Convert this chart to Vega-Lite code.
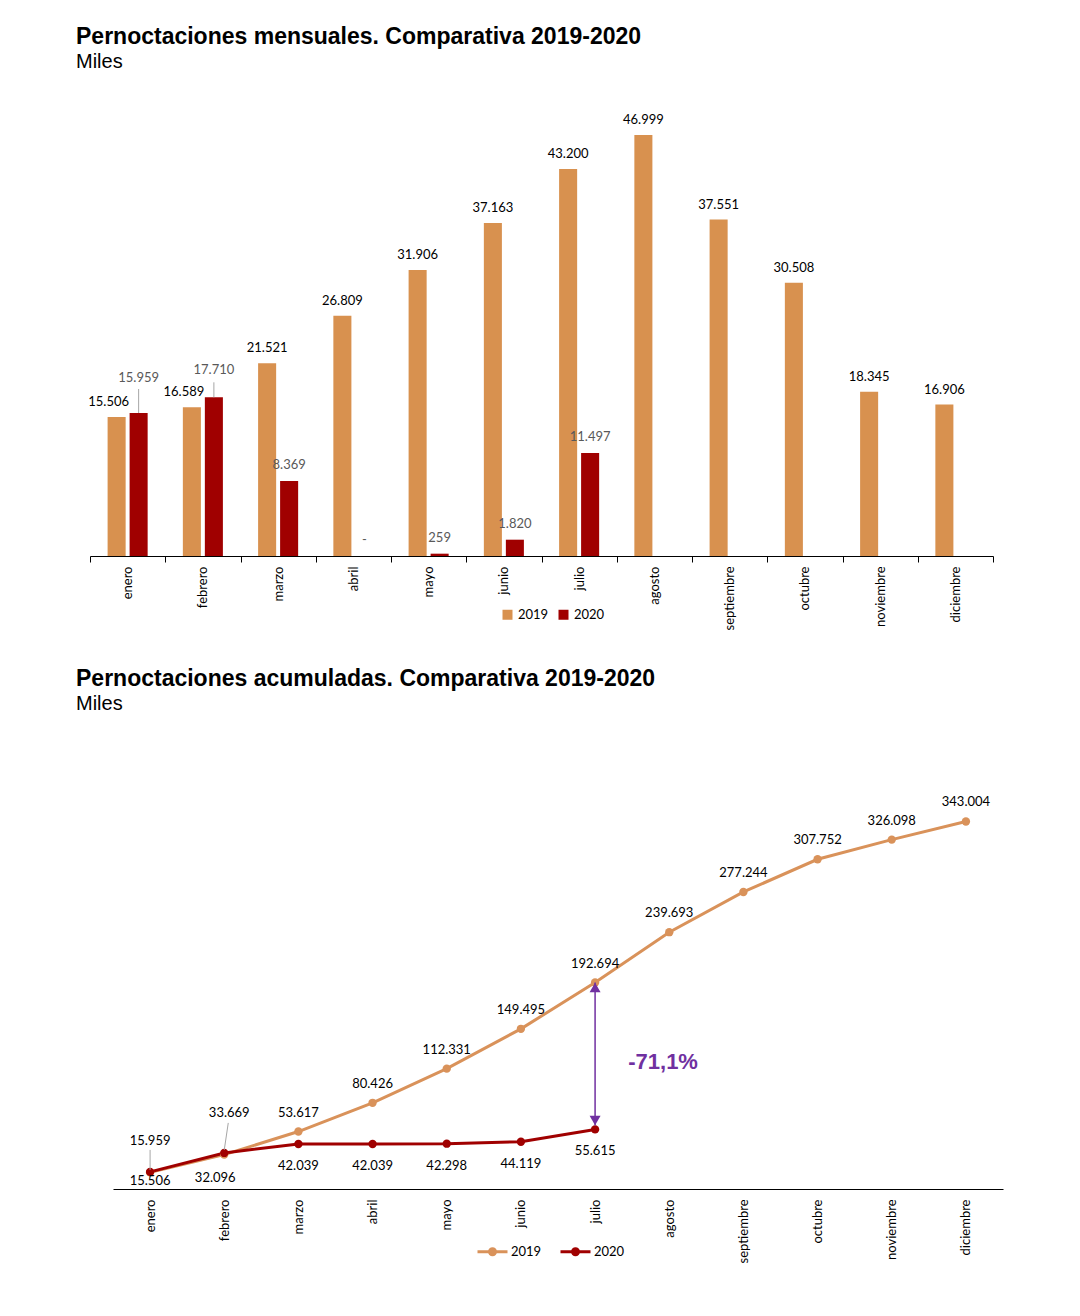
{
  "$schema": "https://vega.github.io/schema/vega-lite/v6.json",
  "background": "white",
  "padding": {"left": 76, "top": 26, "right": 10, "bottom": 10},
  "config": {"view": {"stroke": null}, "font": "Lato"},
  "datasets": {
    "mensual": [
      {"mes": "enero", "n": 1, "anio": "2019", "valor": 15.506, "etiqueta": "15.506"},
      {"mes": "febrero", "n": 2, "anio": "2019", "valor": 16.589, "etiqueta": "16.589"},
      {"mes": "marzo", "n": 3, "anio": "2019", "valor": 21.521, "etiqueta": "21.521"},
      {"mes": "abril", "n": 4, "anio": "2019", "valor": 26.809, "etiqueta": "26.809"},
      {"mes": "mayo", "n": 5, "anio": "2019", "valor": 31.906, "etiqueta": "31.906"},
      {"mes": "junio", "n": 6, "anio": "2019", "valor": 37.163, "etiqueta": "37.163"},
      {"mes": "julio", "n": 7, "anio": "2019", "valor": 43.2, "etiqueta": "43.200"},
      {"mes": "agosto", "n": 8, "anio": "2019", "valor": 46.999, "etiqueta": "46.999"},
      {"mes": "septiembre", "n": 9, "anio": "2019", "valor": 37.551, "etiqueta": "37.551"},
      {"mes": "octubre", "n": 10, "anio": "2019", "valor": 30.508, "etiqueta": "30.508"},
      {"mes": "noviembre", "n": 11, "anio": "2019", "valor": 18.345, "etiqueta": "18.345"},
      {"mes": "diciembre", "n": 12, "anio": "2019", "valor": 16.906, "etiqueta": "16.906"},
      {"mes": "enero", "n": 1, "anio": "2020", "valor": 15.959, "etiqueta": "15.959"},
      {"mes": "febrero", "n": 2, "anio": "2020", "valor": 17.71, "etiqueta": "17.710"},
      {"mes": "marzo", "n": 3, "anio": "2020", "valor": 8.369, "etiqueta": "8.369"},
      {"mes": "abril", "n": 4, "anio": "2020", "valor": 0, "etiqueta": "-"},
      {"mes": "mayo", "n": 5, "anio": "2020", "valor": 0.259, "etiqueta": "259"},
      {"mes": "junio", "n": 6, "anio": "2020", "valor": 1.82, "etiqueta": "1.820"},
      {"mes": "julio", "n": 7, "anio": "2020", "valor": 11.497, "etiqueta": "11.497"}
    ],
    "acumulado": [
      {"mes": "enero", "n": 1, "anio": "2019", "valor": 15.506, "etiqueta": "15.506"},
      {"mes": "febrero", "n": 2, "anio": "2019", "valor": 32.096, "etiqueta": "32.096"},
      {"mes": "marzo", "n": 3, "anio": "2019", "valor": 53.617, "etiqueta": "53.617"},
      {"mes": "abril", "n": 4, "anio": "2019", "valor": 80.426, "etiqueta": "80.426"},
      {"mes": "mayo", "n": 5, "anio": "2019", "valor": 112.331, "etiqueta": "112.331"},
      {"mes": "junio", "n": 6, "anio": "2019", "valor": 149.495, "etiqueta": "149.495"},
      {"mes": "julio", "n": 7, "anio": "2019", "valor": 192.694, "etiqueta": "192.694"},
      {"mes": "agosto", "n": 8, "anio": "2019", "valor": 239.693, "etiqueta": "239.693"},
      {"mes": "septiembre", "n": 9, "anio": "2019", "valor": 277.244, "etiqueta": "277.244"},
      {"mes": "octubre", "n": 10, "anio": "2019", "valor": 307.752, "etiqueta": "307.752"},
      {"mes": "noviembre", "n": 11, "anio": "2019", "valor": 326.098, "etiqueta": "326.098"},
      {"mes": "diciembre", "n": 12, "anio": "2019", "valor": 343.004, "etiqueta": "343.004"},
      {"mes": "enero", "n": 1, "anio": "2020", "valor": 15.959, "etiqueta": "15.959"},
      {"mes": "febrero", "n": 2, "anio": "2020", "valor": 33.669, "etiqueta": "33.669"},
      {"mes": "marzo", "n": 3, "anio": "2020", "valor": 42.039, "etiqueta": "42.039"},
      {"mes": "abril", "n": 4, "anio": "2020", "valor": 42.039, "etiqueta": "42.039"},
      {"mes": "mayo", "n": 5, "anio": "2020", "valor": 42.298, "etiqueta": "42.298"},
      {"mes": "junio", "n": 6, "anio": "2020", "valor": 44.119, "etiqueta": "44.119"},
      {"mes": "julio", "n": 7, "anio": "2020", "valor": 55.615, "etiqueta": "55.615"}
    ],
    "flecha": [
      {"mes": "julio", "arriba": 192.694, "abajo": 55.615, "pct": "-71,1%"}
    ]
  },
  "spacing": 38,
  "resolve": {"scale": {"color": "independent"}, "legend": {"color": "independent"}},
  "vconcat": [
    {
      "width": 903,
      "height": 448,
      "title": {
        "text": "Pernoctaciones mensuales. Comparativa 2019-2020",
        "subtitle": "Miles",
        "anchor": "start",
        "frame": "group",
        "dx": -14,
        "font": "Liberation Sans",
        "fontSize": 23,
        "fontWeight": "bold",
        "color": "#000",
        "subtitleFont": "Liberation Sans",
        "subtitleFontSize": 20,
        "subtitleColor": "#000",
        "subtitlePadding": 3,
        "offset": 36
      },
      "data": {"name": "mensual"},
      "encoding": {
        "x": {
          "field": "mes",
          "type": "nominal",
          "scale": {"domain": ["enero", "febrero", "marzo", "abril", "mayo", "junio", "julio", "agosto", "septiembre", "octubre", "noviembre", "diciembre"], "paddingInner": 0, "paddingOuter": 0},
          "axis": {"title": null, "labelAngle": -90, "labelFont": "Lato", "labelFontSize": 13, "labelColor": "#000", "domainColor": "#000", "tickColor": "#000", "tickSize": 6, "tickBand": "extent", "labelPadding": 4}
        },
        "xOffset": {"field": "anio", "type": "nominal", "scale": {"domain": ["2019", "2020"], "paddingInner": 0.18, "paddingOuter": 0.8}},
        "y": {"field": "valor", "type": "quantitative", "scale": {"domain": [0, 50]}, "axis": null}
      },
      "layer": [
        {
          "mark": {"type": "bar"},
          "encoding": {
            "color": {
              "field": "anio",
              "type": "nominal",
              "scale": {"domain": ["2019", "2020"], "range": ["#D8914F", "#A00000"]},
              "legend": {"title": null, "orient": "none", "legendX": 411, "legendY": 500, "direction": "horizontal", "symbolType": "square", "symbolSize": 100, "labelFont": "Lato", "labelFontSize": 13, "labelColor": "#000", "columnPadding": 8, "symbolOpacity": 1}
            }
          }
        },
        {
          "transform": [{"filter": "datum.anio == '2019' && datum.n > 2"}],
          "mark": {"type": "text", "dy": -15, "fontSize": 13, "font": "Lato", "color": "#000"},
          "encoding": {"text": {"field": "etiqueta"}}
        },
        {
          "transform": [{"filter": "datum.anio == '2019' && datum.n <= 2"}],
          "mark": {"type": "text", "dy": -15, "dx": -8, "fontSize": 13, "font": "Lato", "color": "#000"},
          "encoding": {"text": {"field": "etiqueta"}}
        },
        {
          "transform": [{"filter": "datum.anio == '2020' && datum.n > 2"}],
          "mark": {"type": "text", "dy": -16, "fontSize": 13, "font": "Lato", "color": "#595959"},
          "encoding": {"text": {"field": "etiqueta"}}
        },
        {
          "transform": [{"filter": "datum.anio == '2020' && datum.n == 1"}],
          "mark": {"type": "text", "dy": -35, "fontSize": 13, "font": "Lato", "color": "#595959"},
          "encoding": {"text": {"field": "etiqueta"}}
        },
        {
          "transform": [{"filter": "datum.anio == '2020' && datum.n == 2"}],
          "mark": {"type": "text", "dy": -27, "fontSize": 13, "font": "Lato", "color": "#595959"},
          "encoding": {"text": {"field": "etiqueta"}}
        },
        {
          "transform": [{"filter": "datum.anio == '2020' && datum.n == 1"}],
          "mark": {"type": "rule", "color": "#A6A6A6", "strokeWidth": 1, "y2Offset": -24},
          "encoding": {"y2": {"field": "valor"}}
        },
        {
          "transform": [{"filter": "datum.anio == '2020' && datum.n == 2"}],
          "mark": {"type": "rule", "color": "#A6A6A6", "strokeWidth": 1, "y2Offset": -15},
          "encoding": {"y2": {"field": "valor"}}
        }
      ]
    },
    {
      "width": 913,
      "height": 375,
      "title": {
        "text": "Pernoctaciones acumuladas. Comparativa 2019-2020",
        "subtitle": "Miles",
        "anchor": "start",
        "frame": "group",
        "dx": -14,
        "font": "Liberation Sans",
        "fontSize": 23,
        "fontWeight": "bold",
        "color": "#000",
        "subtitleFont": "Liberation Sans",
        "subtitleFontSize": 20,
        "subtitleColor": "#000",
        "subtitlePadding": 3,
        "offset": 82
      },
      "data": {"name": "acumulado"},
      "encoding": {
        "x": {
          "field": "mes",
          "type": "nominal",
          "scale": {"type": "point", "domain": ["enero", "febrero", "marzo", "abril", "mayo", "junio", "julio", "agosto", "septiembre", "octubre", "noviembre", "diciembre"], "padding": 0.5, "range": [23, 913]},
          "axis": {"title": null, "labelAngle": -90, "labelFont": "Lato", "labelFontSize": 13, "labelColor": "#000", "domainColor": "#000", "ticks": false, "labelPadding": 10}
        },
        "y": {"field": "valor", "type": "quantitative", "scale": {"domain": [0, 350]}, "axis": null}
      },
      "layer": [
        {
          "mark": {"type": "line", "strokeWidth": 3},
          "encoding": {
            "order": {"field": "n", "type": "quantitative"},
            "color": {
              "field": "anio",
              "type": "nominal",
              "scale": {"domain": ["2019", "2020"], "range": ["#D9925A", "#A00000"]},
              "legend": {"title": null, "orient": "none", "legendX": 386, "legendY": 421, "direction": "horizontal", "symbolType": "M-1,0H1M-0.2,0A0.2,0.2,0,1,1,0.2,0A0.2,0.2,0,1,1,-0.2,0M-0.08,0A0.08,0.08,0,1,1,0.08,0A0.08,0.08,0,1,1,-0.08,0", "symbolSize": 900, "symbolStrokeWidth": 3, "labelFont": "Lato", "labelFontSize": 13, "labelColor": "#000", "columnPadding": 12, "labelOffset": 2}
            }
          }
        },
        {
          "mark": {"type": "point", "filled": true, "size": 70, "opacity": 1},
          "encoding": {"color": {"field": "anio", "type": "nominal"}}
        },
        {
          "data": {"name": "flecha"},
          "mark": {"type": "rule", "color": "#7030A0", "strokeWidth": 1.5, "y2Offset": -4},
          "encoding": {"y": {"field": "arriba", "type": "quantitative"}, "y2": {"field": "abajo"}}
        },
        {
          "data": {"name": "flecha"},
          "mark": {"type": "point", "shape": "triangle-up", "filled": true, "size": 121, "opacity": 1, "color": "#7030A0", "yOffset": 5},
          "encoding": {"y": {"field": "arriba", "type": "quantitative"}}
        },
        {
          "data": {"name": "flecha"},
          "mark": {"type": "point", "shape": "triangle-down", "filled": true, "size": 121, "opacity": 1, "color": "#7030A0", "yOffset": -9},
          "encoding": {"y": {"field": "abajo", "type": "quantitative"}}
        },
        {
          "data": {"name": "flecha"},
          "mark": {"type": "text", "dx": 68, "dy": -67, "font": "Liberation Sans", "fontSize": 22, "fontWeight": "bold", "color": "#7030A0"},
          "encoding": {"y": {"field": "abajo", "type": "quantitative"}, "text": {"field": "pct"}}
        },
        {
          "transform": [{"filter": "datum.anio == '2019' && datum.n > 2"}],
          "mark": {"type": "text", "dy": -19, "fontSize": 13, "font": "Lato", "color": "#000"},
          "encoding": {"text": {"field": "etiqueta"}}
        },
        {
          "transform": [{"filter": "datum.anio == '2020' && datum.n > 2"}],
          "mark": {"type": "text", "dy": 22, "fontSize": 13, "font": "Lato", "color": "#000"},
          "encoding": {"text": {"field": "etiqueta"}}
        },
        {
          "transform": [{"filter": "datum.anio == '2019' && datum.n == 1"}],
          "mark": {"type": "text", "dy": 9, "fontSize": 13, "font": "Lato", "color": "#000"},
          "encoding": {"text": {"field": "etiqueta"}}
        },
        {
          "transform": [{"filter": "datum.anio == '2020' && datum.n == 1"}],
          "mark": {"type": "text", "dy": -31, "fontSize": 13, "font": "Lato", "color": "#000"},
          "encoding": {"text": {"field": "etiqueta"}}
        },
        {
          "transform": [{"filter": "datum.anio == '2019' && datum.n == 2"}],
          "mark": {"type": "text", "dy": 23, "dx": -9, "fontSize": 13, "font": "Lato", "color": "#000"},
          "encoding": {"text": {"field": "etiqueta"}}
        },
        {
          "transform": [{"filter": "datum.anio == '2020' && datum.n == 2"}],
          "mark": {"type": "text", "dy": -40, "dx": 5, "fontSize": 13, "font": "Lato", "color": "#000"},
          "encoding": {"text": {"field": "etiqueta"}}
        },
        {
          "transform": [{"filter": "datum.anio == '2020' && datum.n == 1"}],
          "mark": {"type": "rule", "color": "#A6A6A6", "strokeWidth": 1, "yOffset": -2, "y2Offset": -22},
          "encoding": {"y2": {"field": "valor"}}
        },
        {
          "transform": [{"filter": "datum.anio == '2020' && datum.n == 2"}],
          "mark": {"type": "rule", "color": "#A6A6A6", "strokeWidth": 1, "yOffset": -3, "y2Offset": -30, "x2Offset": 4},
          "encoding": {"x2": {"field": "mes"}, "y2": {"field": "valor"}}
        }
      ]
    }
  ]
}
